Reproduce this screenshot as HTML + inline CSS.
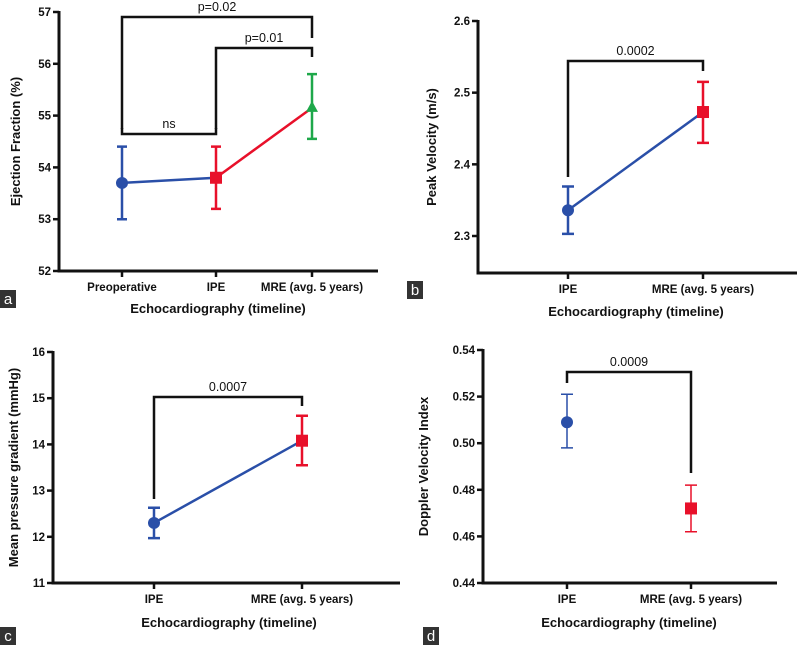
<!DOCTYPE html>
<html><head><meta charset="utf-8"><style>
body{margin:0;background:#fff;}
svg{display:block;font-family:"Liberation Sans",Arial,sans-serif;}
.tk{font-size:11.5px;font-weight:bold;fill:#111;}
.ttl{font-size:13px;font-weight:bold;fill:#111;}
.pv{font-size:12.5px;fill:#111;}
</style></head><body>
<svg id="fig" width="798" height="645" viewBox="0 0 798 645"></svg>
<script>
// Panel a
const aCats=["Preoperative","IPE","MRE (avg. 5 years)"];
const aMeans=[53.7,53.8,55.15];
const aLo=[53.0,53.2,54.55];
const aHi=[54.4,54.4,55.8];
const aTicks=[52,53,54,55,56,57];
// Panel b
const bCats=["IPE","MRE (avg. 5 years)"];
const bMeans=[2.336,2.473];
const bLo=[2.303,2.43];
const bHi=[2.369,2.515];
const bTicks=[2.3,2.4,2.5,2.6];
// Panel c
const cCats=["IPE","MRE (avg. 5 years)"];
const cMeans=[12.3,14.08];
const cLo=[11.97,13.55];
const cHi=[12.63,14.62];
const cTicks=[11,12,13,14,15,16];
// Panel d
const dCats=["IPE","MRE (avg. 5 years)"];
const dMeans=[0.509,0.472];
const dLo=[0.498,0.462];
const dHi=[0.521,0.482];
const dTicks=[0.44,0.46,0.48,0.50,0.52,0.54];

const NS="http://www.w3.org/2000/svg";
const svg=document.getElementById('fig');
function mk(tag,at,parent,txt){const e=document.createElementNS(NS,tag);for(const k in at)e.setAttribute(k,at[k]);if(txt!==undefined)e.textContent=txt;(parent||svg).appendChild(e);return e;}
const BLUE="#2a4fa8",RED="#e8102a",GREEN="#1ea84a";

function panel(o){
  const g=mk('g',{});
  
  
  const y=v=>o.pTop+(v-o.vTop)*(o.pRef-o.pTop)/(o.vRef-o.vTop);
  const x=i=>o.xs[i];
  const ya=mk('line',{x1:o.ax,y1:o.pTop-1,x2:o.ax,y2:o.axBot+1.5,stroke:"#111","stroke-width":3},g);
  
  const xa=mk('line',{x1:o.ax-1.5,y1:o.axBot,x2:o.axEnd,y2:o.axBot,stroke:"#111","stroke-width":3},g);
  
  o.ticks.forEach(t=>{
    mk('line',{x1:o.ax-6,y1:y(t),x2:o.ax,y2:y(t),stroke:"#111","stroke-width":2.5},g);
    const tl=mk('text',{x:o.ax-8,y:y(t)+4,class:'tk','text-anchor':'end'},g,o.fmt(t));
    
  });
  o.cats.forEach((c,i)=>{
    mk('line',{x1:x(i),y1:o.axBot,x2:x(i),y2:o.axBot+6,stroke:"#111","stroke-width":2.5},g);
    const cl=mk('text',{x:x(i),y:o.axBot+20,class:'tk','text-anchor':'middle'},g,c);
    
  });
  const xt=mk('text',{x:o.xtX,y:o.xtY,class:'ttl','text-anchor':'middle'},g,"Echocardiography (timeline)");
  
  const yc=(o.pTop+o.axBot)/2;
  const yt=mk('text',{x:o.ytX,y:yc,class:'ttl','text-anchor':'middle',transform:`rotate(-90 ${o.ytX} ${yc})`},g,o.ytitle);
  
  o.brackets.forEach(b=>{
    const p=mk('path',{d:`M${x(b.i)},${b.yl} V${b.top} H${x(b.j)} V${b.yr}`,fill:"none",stroke:"#111","stroke-width":2.5},g);
    
    const t=mk('text',{x:(x(b.i)+x(b.j))/2,y:b.top-6,class:'pv','text-anchor':'middle'},g,b.label);
    
  });
  if(o.line){
    for(let i=0;i<o.means.length-1;i++){
      const l=mk('line',{x1:x(i),y1:y(o.means[i]),x2:x(i+1),y2:y(o.means[i+1]),stroke:o.lineCols[i],"stroke-width":2.5},g);
      
    }
  }
  o.means.forEach((m,i)=>{
    const c=o.cols[i],w=o.ew;
    const eb=mk('path',{d:`M${x(i)},${y(o.lo[i])} V${y(o.hi[i])} M${x(i)-w},${y(o.lo[i])} H${x(i)+w} M${x(i)-w},${y(o.hi[i])} H${x(i)+w}`,stroke:c,"stroke-width":o.ebw,fill:"none"},g);
    
    let mkr;
    if(o.shapes[i]==='c') mkr=mk('circle',{cx:x(i),cy:y(m),r:6,fill:c},g);
    else if(o.shapes[i]==='s') mkr=mk('rect',{x:x(i)-6,y:y(m)-6,width:12,height:12,fill:c},g);
    else mkr=mk('path',{d:`M${x(i)},${y(m)-7} L${x(i)+6},${y(m)+4} L${x(i)-6},${y(m)+4}Z`,fill:c},g);
    
  });
  const lb=mk('rect',{x:o.lb[0],y:o.lb[1],width:16,height:18,fill:"#333"},g);
  
  const lt=mk('text',{x:o.lb[0]+8,y:o.lb[1]+14,'text-anchor':'middle',fill:'#fff','font-size':'15px'},g,o.id);
  
}

panel({id:'a',cats:aCats,means:aMeans,lo:aLo,hi:aHi,ticks:aTicks,fmt:t=>t,
  vTop:57,pTop:12,vRef:52,pRef:271,ax:59,axBot:271,axEnd:378,xs:[122,216,312],
  xtX:218,xtY:313,ytX:20,ytitle:"Ejection Fraction (%)",
  cols:[BLUE,RED,GREEN],shapes:['c','s','t'],line:true,lineCols:[BLUE,RED],ew:5,ebw:2.5,
  brackets:[{i:0,j:2,top:17,yl:129,yr:38,label:"p=0.02"},{i:1,j:2,top:48,yl:129,yr:57,label:"p=0.01"},{i:0,j:1,top:134,yl:128,yr:128,label:"ns"}],
  lb:[0,290]});

panel({id:'b',cats:bCats,means:bMeans,lo:bLo,hi:bHi,ticks:bTicks,fmt:t=>t.toFixed(1),
  vTop:2.6,pTop:21,vRef:2.3,pRef:236,ax:478,axBot:273,axEnd:797,xs:[568,703],
  xtX:636,xtY:316,ytX:436,ytitle:"Peak Velocity (m/s)",
  cols:[BLUE,RED],shapes:['c','s'],line:true,lineCols:[BLUE],ew:6,ebw:2.5,
  brackets:[{i:0,j:1,top:61,yl:177,yr:71,label:"0.0002"}],
  lb:[407,281]});

panel({id:'c',cats:cCats,means:cMeans,lo:cLo,hi:cHi,ticks:cTicks,fmt:t=>t,
  vTop:16,pTop:352,vRef:11,pRef:583,ax:53,axBot:583,axEnd:400,xs:[154,302],
  xtX:229,xtY:627,ytX:18,ytitle:"Mean pressure gradient (mmHg)",
  cols:[BLUE,RED],shapes:['c','s'],line:true,lineCols:[BLUE],ew:6,ebw:2.5,
  brackets:[{i:0,j:1,top:397,yl:499,yr:406,label:"0.0007"}],
  lb:[0,627]});

panel({id:'d',cats:dCats,means:dMeans,lo:dLo,hi:dHi,ticks:dTicks,fmt:t=>t.toFixed(2),
  vTop:0.54,pTop:350,vRef:0.44,pRef:583,ax:483,axBot:583,axEnd:777,xs:[567,691],
  xtX:629,xtY:627,ytX:428,ytitle:"Doppler Velocity Index",
  cols:[BLUE,RED],shapes:['c','s'],line:false,lineCols:[],ew:6,ebw:1.5,
  brackets:[{i:0,j:1,top:372,yl:383,yr:473,label:"0.0009"}],
  lb:[423,627]});
</script>
</body></html>
